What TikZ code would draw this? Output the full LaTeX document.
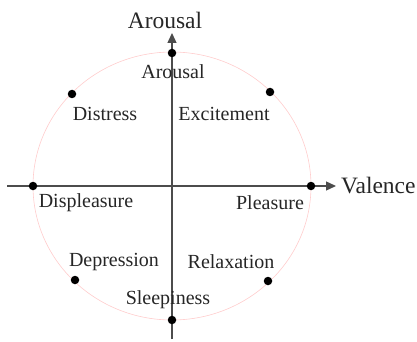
\documentclass[tikz,border=0pt]{standalone}
\usepackage{fontspec}
\setmainfont{Liberation Serif}
\usetikzlibrary{arrows.meta}
\begin{document}
\begin{tikzpicture}[x=1pt,y=-1pt,
  axis/.style={draw=black!70, line width=1.3pt},
  dot/.style={circle, fill=black, inner sep=0pt, minimum size=8.5pt},
  lbl/.style={font=\fontsize{20}{22}\selectfont, text=black!85, inner sep=0pt},
  axlbl/.style={font=\fontsize{23.5}{26}\selectfont, text=black!85, inner sep=0pt}]
\useasboundingbox (0,0) rectangle (417,342);
\draw[red!20, line width=0.6pt] (172,186) ellipse [x radius=139, y radius=134];
% axes
\coordinate (xl) at (7,186);
\coordinate (xr) at (336,186);
\coordinate (yb) at (172,339);
\coordinate (yt) at (172,33);
\draw[axis, -{Triangle[length=10pt,width=9pt]}] (xl) -- (xr);
\draw[axis, -{Triangle[length=10pt,width=9pt]}] (yb) -- (yt);
% dots
\node[dot] (dA) at (172,53) {};
\node[dot] (dS) at (172,320) {};
\node[dot] (dL) at (33,186) {};
\node[dot] (dR) at (311,186) {};
\node[dot] (dNW) at (72,94) {};
\node[dot] (dNE) at (270,92) {};
\node[dot] (dSW) at (75,280) {};
\node[dot] (dSE) at (268,281) {};
% axis labels
\node[axlbl] (ta) at (165,20) {Arousal};
\node[axlbl, anchor=west] (tv) at (341,186) {Valence};
% point labels
\node[lbl] (la) at (173,72) {Arousal};
\node[lbl] (ld) at (105,114) {Distress};
\node[lbl] (le) at (224,114) {Excitement};
\node[lbl] (ldp) at (86,203) {Displeasure};
\node[lbl] (lp) at (270,203) {Pleasure};
\node[lbl] (lde) at (114,262) {Depression};
\node[lbl] (lr) at (231,262) {Relaxation};
\node[lbl] (ls) at (168,300) {Sleepiness};
\end{tikzpicture}
\end{document}
